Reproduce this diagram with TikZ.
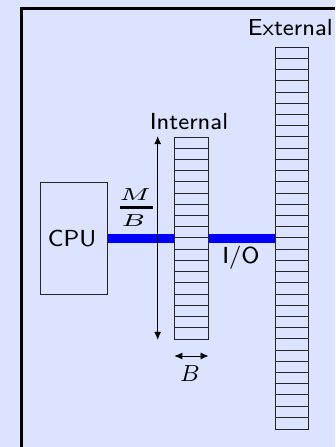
\documentclass[tikz,border=0pt]{standalone}
\usepackage{graphicx}
\usetikzlibrary{arrows.meta}
\definecolor{bg}{RGB}{220,227,254}
\newcommand{\sflab}[1]{\scalebox{2.9}{\fontsize{8}{10}\selectfont\sffamily #1}}
\newcommand{\mlab}[1]{\scalebox{2.9}{\fontsize{8}{10}\selectfont #1}}
\newcommand{\fraclab}[1]{\scalebox{4.2}[2.9]{\fontsize{6.4}{8}\selectfont #1}}
\begin{document}
\begin{tikzpicture}[x=1pt,y=-1pt,
  cellbox/.style={draw=black!85,line width=0.9pt,inner sep=0pt,minimum width=33.7pt},
  lbl/.style={inner sep=0pt,anchor=base},
  bus/.style={draw=blue,line width=9pt},
  dimarrow/.style={draw=black,line width=0.8pt,{Latex[length=8pt,width=7pt]}-{Latex[length=8pt,width=7pt]}}]
\fill[bg] (0,0) rectangle (335,447);
\useasboundingbox (0,0) rectangle (335,447);
\draw[line width=3pt] (21.5,447) -- (21.5,8.3) -- (335,8.3);
% CPU
\node[draw=black!85,line width=0.9pt,minimum width=67.3pt,minimum height=112.3pt,inner sep=0pt] (cpu) at (73.7,238.3) {};
% internal memory
\node[cellbox,minimum height=201.96pt] (int) at (191.3,238.3) {};
\foreach \i in {1,...,17}{
  \draw[black!85,line width=0.9pt] ([yshift=-\i*11.22pt]int.north west) -- ([yshift=-\i*11.22pt]int.north east);
}
% external memory
\node[cellbox,minimum height=381.48pt] (ext) at (292,238.3) {};
\foreach \i in {1,...,33}{
  \draw[black!85,line width=0.9pt] ([yshift=-\i*11.22pt]ext.north west) -- ([yshift=-\i*11.22pt]ext.north east);
}
% buses
\draw[bus] (cpu.east) -- (int.west);
\draw[bus] (int.east) -- (ext.west);
% dimension arrows
\coordinate (mtop) at (157.7,136.2);
\coordinate (mbot) at (157.7,339.8);
\draw[dimarrow] (mtop) -- (mbot);
\coordinate (bl) at (174.3,356);
\coordinate (br) at (208.5,356);
\draw[dimarrow] (bl) -- (br);
% labels
\node[lbl] (extlab) at (290.3,35) {\sflab{External}};
\node[lbl] (intlab) at (189,129) {\sflab{Internal}};
\node[lbl] (cpulab) at (72,246.7) {\sflab{CPU}};
\node[lbl] (iolab) at (241,263.5) {\sflab{I/O}};
% M/B fraction
\node[lbl] (fracm) at (135,200) {\fraclab{$M$}};
\node[fill=black,inner sep=0pt,minimum width=32.7pt,minimum height=2.7pt] (fracbar) at (136.3,207.3) {};
\node[lbl] (fracb) at (133.5,226) {\fraclab{$B$}};
\node[lbl] (blab) at (190,381.7) {\mlab{$B$}};
\end{tikzpicture}
\end{document}
